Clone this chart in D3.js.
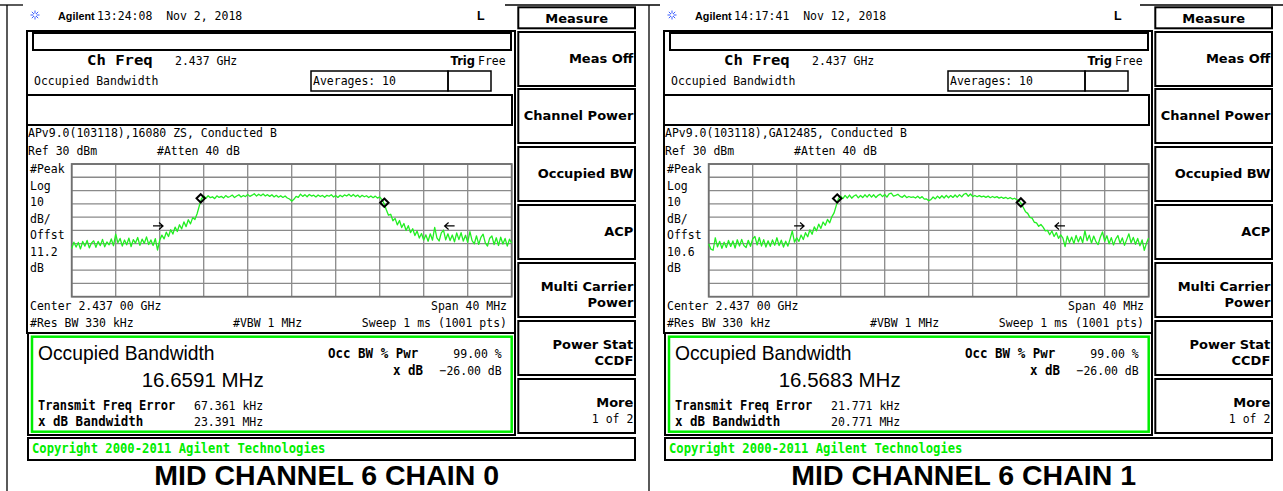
<!DOCTYPE html>
<html>
<head>
<meta charset="utf-8">
<script src="https://cdn.jsdelivr.net/npm/d3@7"></script>
<style>
body { margin: 0; background: #fff; }
svg { display: block; }
</style>
</head>
<body>
<script>
var W = 1283, H = 491;

// sweep is 1001 pts over a 40 MHz span; trace read back from the screen every 0.2 MHz
var spanStart = -20, spanStep = 0.2;
var xTicks = [-20, -16, -12, -8, -4, 0, 4, 8, 12, 16, 20];
var yTicks = [30, 20, 10, 0, -10, -20, -30, -40, -50, -60, -70];

// chain 0 trace, dBm
var trace0 = [
  -33.8, -28.9, -32.6, -29.1, -34.0, -28.4, -31.9, -27.6, -33.2, -29.5,
  -27.9, -32.8, -28.3, -31.5, -26.8, -32.4, -28.7, -30.9, -26.5, -31.6,
  -22.8,
  -29.4, -26.1, -31.8, -27.3, -30.9, -25.8, -32.2, -27.0, -29.6, -25.4,
  -31.3, -26.6, -29.8, -24.9, -30.7, -27.2, -31.4, -26.3, -34.8, -27.5,
  -23.6, -26.4, -21.4, -24.6, -19.5, -22.8, -17.6, -20.9, -15.8, -18.9,
  -13.6, -17.2, -12.0, -15.1, -10.4,
  -11.8, -7.5, -1.5, 3.8,
  5.9, 4.2, 6.1, 4.6, 5.3, 3.9, 6.0, 4.8, 5.6, 4.3,
  6.2, 4.9, 5.5, 6.6, 4.7, 5.9, 6.8, 5.1, 6.3, 5.4,
  7.1, 5.6, 6.5, 7.6, 5.8, 7.2, 6.0, 7.4, 5.9, 6.9,
  5.6, 6.8, 5.2, 6.4, 5.0, 6.1, 4.8, 5.9, 4.4, 3.6,
  2.0,
  3.4, 5.6, 4.9, 7.3, 5.6, 6.9, 5.3, 7.1, 5.8, 6.5,
  5.2, 6.7, 5.5, 6.3, 4.9, 6.4, 5.7, 6.9, 5.1, 6.2,
  4.8, 6.5, 5.3, 6.7, 5.9, 7.2, 5.6, 7.0, 5.4, 6.6,
  5.0, 6.4, 5.3, 6.1, 4.7, 5.9, 4.6, 5.8, 4.3, 5.2,
  3.2,
  0.2, -4.5, -8.6, -7.9, -12.8, -11.0, -15.9, -12.6, -17.9, -14.8,
  -20.1, -16.5, -21.7, -18.8, -23.9, -20.6, -25.8, -22.4, -27.3,
  -23.4, -28.2, -22.6, -27.4, -17.8, -25.6, -28.0, -21.9, -19.8, -27.1,
  -22.6, -27.7, -23.5, -28.6, -21.9, -27.0, -21.8, -28.1, -23.7, -29.0,
  -21.0, -27.8, -30.2, -24.1, -30.6, -25.3, -22.9, -29.5, -31.8, -25.9,
  -24.2, -30.7, -25.6, -31.4, -25.2, -30.3, -26.1, -31.9, -26.7, -29.6
];

// chain 1 trace, dBm
var trace1 = [
  -30.1, -34.2, -35.0, -25.6, -32.4, -28.3, -33.5, -28.9, -32.9, -27.6,
  -32.1, -28.0, -33.3, -27.1, -31.8, -26.8, -31.5, -32.9, -27.5, -32.0,
  -26.4, -24.6, -31.0, -25.4, -31.8, -27.0, -32.6, -27.9, -32.0, -27.2,
  -31.2, -25.6, -31.5, -27.4, -32.6, -28.2, -31.9, -26.4,
  -20.5, -28.9, -25.6,
  -28.3, -23.5, -26.9, -21.8, -24.8, -19.6, -22.9, -17.4, -20.4, -15.3,
  -18.5, -13.7, -16.2, -11.8, -14.3, -9.6, -6.8, -1.2,
  4.0,
  5.7, 3.9, 6.3, 4.3, 6.6, 4.2, 5.9, 6.7, 4.5, 6.3,
  4.7, 6.8, 5.0, 7.1, 5.1, 6.8, 4.7, 6.4, 7.3, 5.4,
  7.0, 5.0, 7.5, 8.0, 5.8, 6.4, 7.2, 5.6, 4.9, 6.5,
  4.7, 5.5, 4.9, 5.3, 4.4, 5.7, 4.2, 5.4, 3.5, 3.7,
  2.4,
  3.2, 5.1, 3.7, 5.8, 4.2, 6.1, 4.4, 6.4, 4.6, 6.2,
  4.8, 6.6, 5.0, 6.9, 5.2, 7.2, 7.9, 5.7, 7.4, 5.4,
  6.3, 5.3, 6.2, 5.2, 5.8, 4.9, 5.8, 4.6, 5.5, 4.7,
  5.4, 4.3, 5.1, 4.1, 4.9, 3.8, 4.7, 3.6, 4.2, 3.1,
  2.4,
  0.3, -2.8, -5.9, -7.2, -10.2, -10.8, -13.9, -14.3, -17.0, -15.6,
  -17.6, -20.4, -20.0, -23.3, -20.5, -24.6, -21.7, -26.0, -23.4,
  -25.9, -32.2, -24.4, -29.1, -25.1, -30.0, -23.8, -28.7, -24.7, -29.3,
  -20.3, -27.8, -23.6, -29.6, -24.3, -28.5, -30.7, -25.2, -21.2, -28.2,
  -24.1, -30.1, -25.5, -31.0, -26.6, -23.9, -29.8, -25.7, -31.3, -27.0,
  -22.6, -29.4, -25.3, -30.5, -26.1, -31.7, -27.2, -35.0, -29.6, -25.8
];

var traces = [trace0, trace1];
var markers = [
  [{f: -8.27, dbm: 4.1}, {f: 8.42, dbm: 0.8}],
  [{f: -8.32, dbm: 4.0}, {f: 8.38, dbm: 1.0}]
];
var arrows = [
  [{f: -11.7, dbm: -16.7, dir: 1}, {f: 13.9, dbm: -16.7, dir: -1}],
  [{f: -11.33, dbm: -16.7, dir: 1}, {f: 11.48, dbm: -16.7, dir: -1}]
];

var captions = ["MID CHANNEL 6 CHAIN 0", "MID CHANNEL 6 CHAIN 1"];
var stamps = ["13:24:08\u00a0\u00a0Nov 2, 2018", "14:17:41\u00a0\u00a0Nov 12, 2018"];
var notes = ["APv9.0(103118),16080 ZS, Conducted B", "APv9.0(103118),GA12485, Conducted B"];
var offsets = ["11.2", "10.6"];
var occBW = ["16.6591 MHz", "16.5683 MHz"];
var freqErr = ["67.361 kHz", "21.771 kHz"];
var xdbBW = ["23.391 MHz", "20.771 MHz"];
var sideLabels = ["#Peak", "Log", "10", "dB/", "Offst", null, "dB"];
var menuItems = [["Meas Off"], ["Channel Power"], ["Occupied BW"], ["ACP"],
                 ["Multi Carrier", "Power"], ["Power Stat", "CCDF"], ["More", "1 of 2"]];
var panelX = [0, 637];

var GREEN = "#00ee00";

var svg = d3.select("body").append("svg").attr("width", W).attr("height", H);

// instrument text: mono face drawn a little taller than its natural height
function txt(g, x, y, s, o) {
  o = o || {};
  var font = o.font || "DejaVu Sans Mono";
  var sy = o.sy || (font === "DejaVu Sans Mono" ? 1.12 : 1);
  return g.append("text")
    .attr("transform", "translate(" + x + "," + y + ") scale(" + (o.sx || 1) + "," + sy + ")")
    .attr("font-family", font)
    .attr("font-size", o.size || 11.5)
    .attr("font-weight", o.bold ? "bold" : "normal")
    .attr("text-anchor", o.anchor || "start")
    .attr("fill", o.fill || "#000")
    .text(s);
}

function box(g, x0, y0, x1, y1, sw, col) {
  return g.append("rect")
    .attr("x", x0).attr("y", y0)
    .attr("width", x1 - x0).attr("height", y1 - y0)
    .attr("fill", "none")
    .attr("stroke", col || "#000")
    .attr("stroke-width", sw || 2);
}

// page table lines
svg.append("g").selectAll("line")
  .data([[0, 5, 23, 5], [505, 5, 660, 5], [1140, 5, 1283, 5], [7, 5, 7, 491], [649, 5, 649, 491]])
  .enter().append("line")
    .attr("x1", d => d[0]).attr("y1", d => d[1]).attr("x2", d => d[2]).attr("y2", d => d[3])
    .attr("stroke", "#000").attr("stroke-width", 1.3);

function drawPanel(k) {
  var g = svg.append("g").attr("transform", "translate(" + panelX[k] + ",0)");

  // agilent spark
  var star = g.append("g").attr("transform", "translate(35,15)");
  d3.range(8).forEach(function(j) {
    var a = j * Math.PI / 4;
    star.append("line")
      .attr("x1", 1.5 * Math.cos(a)).attr("y1", 1.5 * Math.sin(a))
      .attr("x2", 4.5 * Math.cos(a)).attr("y2", 4.5 * Math.sin(a))
      .attr("stroke", "#3a5cff").attr("stroke-width", 1);
  });
  txt(g, 58, 20, "Agilent", {font: "Liberation Sans", bold: true, size: 10.8});
  txt(g, 97, 20, stamps[k], {sy: 1.05});
  txt(g, 477, 20, "L", {font: "Liberation Sans", bold: true, size: 12.5});

  // screen frames
  box(g, 27, 31, 515, 333, 2);
  box(g, 33, 33, 511, 50, 2);
  txt(g, 87, 65, "Ch Freq", {bold: true, size: 13, sx: 1.2});
  txt(g, 175, 65, "2.437 GHz");
  txt(g, 475, 65, "Trig", {font: "DejaVu Sans", bold: true, size: 11.5, anchor: "end"});
  txt(g, 478, 65, "Free");
  txt(g, 34, 85, "Occupied Bandwidth");
  box(g, 311, 71, 448, 91, 1.5);
  box(g, 448, 71, 491, 91, 1.5);
  txt(g, 313, 85, "Averages: 10");
  box(g, 27, 95, 512, 125, 2);
  txt(g, 28, 137, notes[k]);
  txt(g, 28, 155, "Ref 30 dBm");
  txt(g, 157, 155, "#Atten 40 dB");

  sideLabels.forEach(function(s, j) {
    txt(g, 30, 173 + j * 16.5, s === null ? offsets[k] : s);
  });

  // plot
  var x = d3.scaleLinear().domain([-20, 20]).range([71.7, 511.7]);
  var y = d3.scaleLinear().domain([-70, 30]).range([296.7, 164]);

  var grid = g.append("g");
  grid.selectAll(".vl").data(xTicks).enter().append("line")
    .attr("x1", d => x(d)).attr("x2", d => x(d))
    .attr("y1", y(30)).attr("y2", y(-70))
    .attr("stroke", "#8a8a8a").attr("stroke-width", 1.3);
  grid.selectAll(".hl").data(yTicks).enter().append("line")
    .attr("x1", x(-20)).attr("x2", x(20))
    .attr("y1", d => y(d)).attr("y2", d => y(d))
    .attr("stroke", "#8a8a8a").attr("stroke-width", 1.3);
  grid.append("rect")
    .attr("x", x(-20)).attr("y", y(30))
    .attr("width", x(20) - x(-20)).attr("height", y(-70) - y(30))
    .attr("fill", "none").attr("stroke", "#707070").attr("stroke-width", 1.8);

  var line = d3.line()
    .x(function(d, i) { return x(spanStart + i * spanStep); })
    .y(function(d) { return y(d); });
  g.append("path").datum(traces[k])
    .attr("d", line)
    .attr("fill", "none")
    .attr("stroke", "#22ee22")
    .attr("stroke-width", 1.3)
    .attr("stroke-linejoin", "round");

  g.selectAll(".mk").data(markers[k]).enter().append("path")
    .attr("d", function(d) {
      var cx = x(d.f), cy = y(d.dbm), r = 4.2;
      return "M" + cx + "," + (cy - r) + "L" + (cx + r) + "," + cy + "L" + cx + "," + (cy + r) + "L" + (cx - r) + "," + cy + "Z";
    })
    .attr("fill", "none").attr("stroke", "#000").attr("stroke-width", 2);

  g.selectAll(".ar").data(arrows[k]).enter().append("path")
    .attr("d", function(d) {
      var tx = x(d.f), ty = y(d.dbm), s = d.dir;
      return "M" + (tx - s * 10) + "," + ty + "L" + tx + "," + ty +
             "M" + (tx - s * 4) + "," + (ty - 3.5) + "L" + tx + "," + ty + "L" + (tx - s * 4) + "," + (ty + 3.5);
    })
    .attr("fill", "none").attr("stroke", "#000").attr("stroke-width", 1.2);

  txt(g, 30, 310, "Center 2.437 00 GHz");
  txt(g, 507, 310, "Span 40 MHz", {anchor: "end"});
  txt(g, 30, 327, "#Res BW 330 kHz");
  txt(g, 233, 327, "#VBW 1 MHz");
  txt(g, 507, 327, "Sweep 1 ms (1001 pts)", {anchor: "end"});

  // result box
  box(g, 28, 333, 515, 435, 2);
  box(g, 32, 336.7, 511.7, 431.7, 2.5, GREEN);
  txt(g, 38, 360, "Occupied Bandwidth", {font: "Liberation Sans", size: 20.5, sx: 0.94});
  txt(g, 141.7, 386.7, occBW[k], {font: "Liberation Sans", size: 20.5});
  txt(g, 328, 358, "Occ BW % Pwr", {bold: true, size: 12.5});
  txt(g, 501.7, 358, "99.00 %", {anchor: "end"});
  txt(g, 423, 375, "x dB", {bold: true, size: 12.5, anchor: "end"});
  txt(g, 501.7, 375, "\u221226.00 dB", {anchor: "end"});
  txt(g, 38, 410, "Transmit Freq Error", {bold: true, size: 12});
  txt(g, 194, 410, freqErr[k]);
  txt(g, 38, 426, "x dB Bandwidth", {bold: true, size: 12.5});
  txt(g, 194, 426, xdbBW[k]);

  box(g, 28, 438, 635, 460, 2);
  txt(g, 32, 453, "Copyright 2000\u20112011 Agilent Technologies", {bold: true, size: 12.2, fill: GREEN});

  // softkey menu
  box(g, 518.3, 7.3, 635, 28.3, 2);
  txt(g, 576.7, 23, "Measure", {font: "DejaVu Sans", bold: true, size: 13, anchor: "middle"});
  var tops = [32, 89, 147, 205, 263, 321, 379];
  menuItems.forEach(function(m, j) {
    box(g, 518.3, tops[j], 635, tops[j] + 54, 2);
    if (m.length === 1) {
      txt(g, 633.3, tops[j] + 31, m[0], {font: "DejaVu Sans", bold: true, size: 13, anchor: "end"});
    } else {
      txt(g, 633.3, tops[j] + 28, m[0], {font: "DejaVu Sans", bold: true, size: 13, anchor: "end"});
      if (j === 6) {
        txt(g, 633.3, tops[j] + 44, m[1], {anchor: "end"});
      } else {
        txt(g, 633.3, tops[j] + 44, m[1], {font: "DejaVu Sans", bold: true, size: 13, anchor: "end"});
      }
    }
  });

  txt(g, 326.7, 484.5, captions[k], {font: "Liberation Sans", bold: true, size: 28.5, anchor: "middle"});
}

drawPanel(0);
drawPanel(1);
</script>
</body>
</html>
